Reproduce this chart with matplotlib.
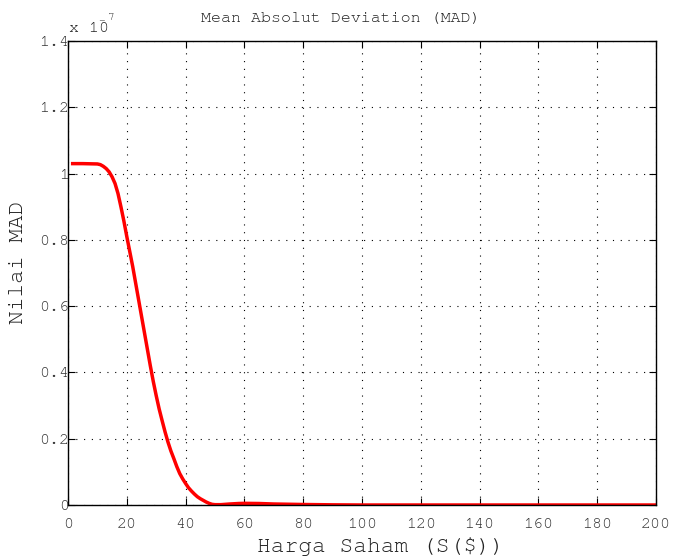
import matplotlib
matplotlib.use("Agg")
import matplotlib.pyplot as plt

# Data (MAD values in units of 1e-7)
S = [1, 5, 10, 11, 12, 13, 14, 15, 16, 17, 18, 19, 20, 21, 22, 23, 24, 25, 26,
     27, 28, 29, 30, 31, 32, 33, 34, 35, 36, 37, 38, 39, 40, 41, 42, 43, 44,
     45, 46, 47, 48, 49, 50, 52, 55, 58, 60, 65, 70, 80, 90, 100, 150, 200]
MAD = [1.030, 1.030, 1.029, 1.027, 1.022, 1.015, 1.005, 0.990, 0.970, 0.940,
       0.900, 0.857, 0.810, 0.765, 0.720, 0.670, 0.620, 0.570, 0.520,
       0.470, 0.420, 0.373, 0.330, 0.290, 0.255, 0.221, 0.190, 0.163, 0.140,
       0.116, 0.095, 0.079, 0.065, 0.052, 0.042, 0.033, 0.025,
       0.019, 0.014, 0.009, 0.005, 0.002, 0.001, 0.001, 0.003, 0.0045, 0.005,
       0.0045, 0.003, 0.0015, 0.0005, 0.0, 0.0, 0.0]
xticks = [0, 20, 40, 60, 80, 100, 120, 140, 160, 180, 200]
yticks = [0, 0.2, 0.4, 0.6, 0.8, 1.0, 1.2, 1.4]
yticklabels = ["0", "0.2", "0.4", "0.6", "0.8", "1", "1.2", "1.4"]

plt.rcParams['font.family'] = ['FreeMono', 'DejaVu Sans Mono']

fig = plt.figure(figsize=(6.76, 5.58), dpi=100)
ax = fig.add_axes([68/676, 1-505/558, (656-68)/676, (505-41)/558])

ax.plot(S, MAD, color='#ff0000', linewidth=2.5, solid_capstyle='butt',
        solid_joinstyle='round')

ax.set_xlim(0, 200)
ax.set_ylim(0, 1.4)
ax.set_xticks(xticks)
ax.set_xticklabels([str(v) for v in xticks])
ax.set_yticks(yticks)
ax.set_yticklabels(yticklabels)

ax.grid(True, color='black', linestyle=(0, (1, 6)), linewidth=0.8)
ax.tick_params(direction='in', length=5, width=0.8, top=True, right=True,
               labelsize=12, colors='black', labelcolor='#333333')
ax.tick_params(axis='y', pad=-1)
ax.tick_params(axis='x', pad=9)
for sp in ax.spines.values():
    sp.set_linewidth(1.0)
    sp.set_color('black')

ax.set_xlabel("Harga Saham (S($))", fontsize=16.5, color='#222222')
ax.xaxis.label.set_va('center')
ax.xaxis.set_label_coords((381-68)/588, -(546-505)/464)
ax.set_ylabel("Nilai MAD", fontsize=16.5, color='#222222')
ax.yaxis.label.set_va('center')
ax.yaxis.set_label_coords((18-68)/588, (505-262)/464)

fig.text(341/676, 1-18/558, "Mean Absolut Deviation (MAD)", fontsize=12,
         ha='center', va='center', color='#222222')

fig.text(69/676, 1-28/558, "x 10", fontsize=12, ha='left', va='center', color='#222222')
fig.text(102/676, 1-22/558, "-", fontsize=8, ha='center', va='center', color='#222222')
fig.text(111/676, 1-17/558, "7", fontsize=8, ha='center', va='center', color='#222222')

fig.savefig("out.png", dpi=100, facecolor='white')
